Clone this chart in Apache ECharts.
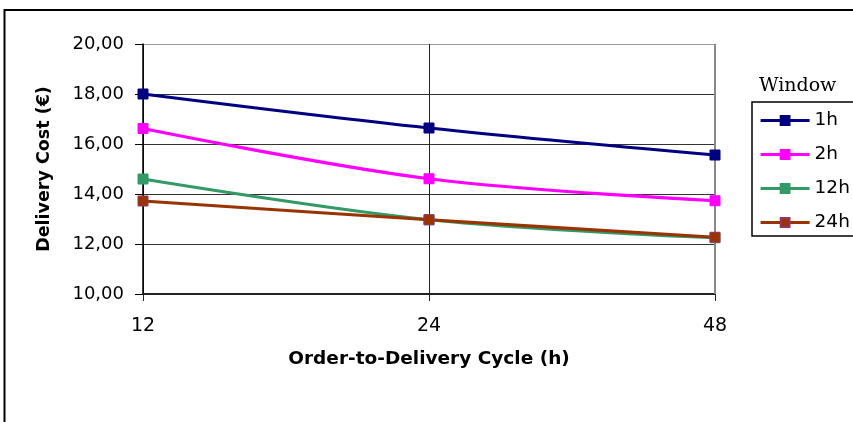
<!DOCTYPE html>
<html>
<head>
<meta charset="utf-8">
<script src="https://cdn.jsdelivr.net/npm/echarts@6/dist/echarts.min.js"></script>
<style>
  html, body { margin: 0; padding: 0; background: #fff; }
  #chart { width: 853px; height: 422px; }
</style>
</head>
<body>
<div id="chart"></div>
<script>
// Order-to-delivery cycle lengths (hours)
var cycles = ['12', '24', '48'];

// Delivery cost per delivery window (EUR)
var window1h  = [18.00, 16.64, 15.56];
var window2h  = [16.62, 14.61, 13.73];
var window12h = [14.60, 12.97, 12.25];
var window24h = [13.72, 12.97, 12.27];

var seriesNames = ['1h', '2h', '12h', '24h'];
var lineColors = ['#000080', '#FF00FF', '#339966', '#993300'];
var markerBorders = ['#000080', '#FF00FF', '#339966', '#993366'];
var seriesData = [window1h, window2h, window12h, window24h];

var chart = echarts.init(document.getElementById('chart'), null, { renderer: 'canvas' });

var series = seriesNames.map(function (name, i) {
  return {
    name: name,
    type: 'line',
    data: seriesData[i],
    smooth: 0.35,
    symbol: 'rect',
    symbolSize: 10,
    lineStyle: { color: lineColors[i], width: 3.2 },
    itemStyle: { color: lineColors[i], borderColor: markerBorders[i], borderWidth: 1 },
    emphasis: { disabled: true },
    z: 3 + i
  };
});

chart.setOption({
  animation: false,
  backgroundColor: '#ffffff',
  grid: { left: 143, right: 138, top: 44, bottom: 128, show: false },
  legend: {
    orient: 'vertical',
    left: 754,
    top: 106,
    itemWidth: 49,
    itemHeight: 11,
    itemGap: 15,
    data: seriesNames,
    lineStyle: { width: 3.2 },
    textStyle: { fontFamily: 'DejaVu Sans', fontSize: 18.5, color: '#000', lineHeight: 18 },
    selectedMode: false
  },
  xAxis: {
    type: 'category',
    data: cycles,
    boundaryGap: false,
    axisLine: { show: true, lineStyle: { color: '#222', width: 2 } },
    axisTick: { show: true, length: 7, lineStyle: { color: '#222', width: 1 } },
    axisLabel: { margin: 23, fontFamily: 'DejaVu Sans', fontSize: 19, color: '#000' },
    splitLine: { show: true, lineStyle: { color: ['#222', '#222', '#888'], width: 1 } },
    name: 'Order-to-Delivery Cycle (h)',
    nameLocation: 'middle',
    nameGap: 56,
    nameTextStyle: { fontFamily: 'DejaVu Sans', fontWeight: 'bold', fontSize: 18.5, color: '#000' }
  },
  yAxis: {
    type: 'value',
    min: 10,
    max: 20,
    interval: 2,
    axisLine: { show: true, lineStyle: { color: '#000', width: 1.5 } },
    axisTick: { show: true, length: 8, lineStyle: { color: '#000', width: 1 } },
    axisLabel: {
      margin: 19,
      fontFamily: 'DejaVu Sans',
      fontSize: 18,
      color: '#000',
      formatter: function (v) { return v.toFixed(2).replace('.', ','); }
    },
    splitLine: { show: true, lineStyle: { color: ['#333', '#333', '#333', '#333', '#333', '#999'], width: 1 } },
    name: 'Delivery Cost (€)',
    nameLocation: 'middle',
    nameRotate: 90,
    nameGap: 90,
    nameTextStyle: { fontFamily: 'DejaVu Sans', fontWeight: 'bold', fontSize: 17.5, color: '#000' }
  },
  graphic: [
    // outer chart frame
    { type: 'rect', shape: { x: 4.5, y: 10, width: 900, height: 450 },
      style: { fill: null, stroke: '#000', lineWidth: 2 }, silent: true, z: 0 },
    // right edge of plot area
    { type: 'line', shape: { x1: 715, y1: 44, x2: 715, y2: 294 },
      style: { stroke: '#888', lineWidth: 2 }, silent: true, z: 1 },
    // legend frame
    { type: 'rect', shape: { x: 752, y: 102, width: 200, height: 134 },
      style: { fill: null, stroke: '#000', lineWidth: 1.5 }, silent: true, z: 1 },
    // legend title
    { type: 'text', left: 759, top: 77,
      style: { text: 'Window', font: '19px "DejaVu Serif"', fill: '#000' }, silent: true, z: 2 }
  ],
  series: series
});
</script>
</body>
</html>
